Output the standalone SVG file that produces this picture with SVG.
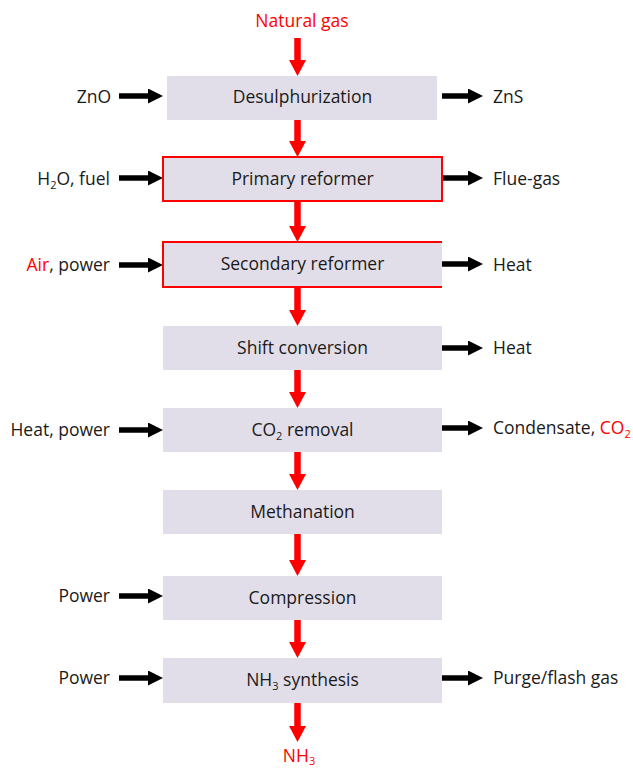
<svg xmlns="http://www.w3.org/2000/svg" width="633" height="770" viewBox="0 0 633 770">
<defs>
<style>
text{font-family:"Open Sans","Noto Sans","Liberation Sans",sans-serif;font-size:17.5px;fill:#1a1a1a}
.c{text-anchor:middle}
.e{text-anchor:end}
.red{fill:#ff0000}
.box{fill:#e2dee9}
.rb{fill:none;stroke:#ff0000;stroke-width:2}
.ra{stroke:#ff0000;stroke-width:6.5;fill:none}
.ba{stroke:#000;stroke-width:5.5;fill:none}
</style>
<marker id="rh" markerUnits="userSpaceOnUse" markerWidth="16" markerHeight="17" viewBox="0 0 16 17" refX="1" refY="8.5" orient="auto">
<path d="M0,0 L16,8.5 L0,17 z" fill="#ff0000"/>
</marker>
<marker id="bh" markerUnits="userSpaceOnUse" markerWidth="15" markerHeight="15" viewBox="0 0 15 15" refX="1" refY="7.5" orient="auto">
<path d="M0,0 L15,7.5 L0,15 z" fill="#000"/>
</marker>
</defs>
<rect width="633" height="770" fill="#fff"/>

<g id="connectors">
<line class="ra" x1="297.5" y1="38" x2="297.5" y2="61" marker-end="url(#rh)"/>
<line class="ra" x1="297.5" y1="120" x2="297.5" y2="142" marker-end="url(#rh)"/>
<line class="ra" x1="297.5" y1="201" x2="297.5" y2="227" marker-end="url(#rh)"/>
<line class="ra" x1="297.5" y1="287" x2="297.5" y2="311" marker-end="url(#rh)"/>
<line class="ra" x1="297.5" y1="370" x2="297.5" y2="393" marker-end="url(#rh)"/>
<line class="ra" x1="297.5" y1="452" x2="297.5" y2="475" marker-end="url(#rh)"/>
<line class="ra" x1="297.5" y1="534" x2="297.5" y2="561" marker-end="url(#rh)"/>
<line class="ra" x1="297.5" y1="620" x2="297.5" y2="643" marker-end="url(#rh)"/>
<line class="ra" x1="297.5" y1="703" x2="297.5" y2="727" marker-end="url(#rh)"/>

<line class="ba" x1="119" y1="96" x2="149" y2="96" marker-end="url(#bh)"/>
<line class="ba" x1="119" y1="178" x2="149" y2="178" marker-end="url(#bh)"/>
<line class="ba" x1="119" y1="265" x2="149" y2="265" marker-end="url(#bh)"/>
<line class="ba" x1="119" y1="430" x2="149" y2="430" marker-end="url(#bh)"/>
<line class="ba" x1="119" y1="596" x2="149" y2="596" marker-end="url(#bh)"/>
<line class="ba" x1="119" y1="678" x2="149" y2="678" marker-end="url(#bh)"/>

<line class="ba" x1="442" y1="96" x2="469" y2="96" marker-end="url(#bh)"/>
<line class="ba" x1="442" y1="178" x2="469" y2="178" marker-end="url(#bh)"/>
<line class="ba" x1="442" y1="264" x2="469" y2="264" marker-end="url(#bh)"/>
<line class="ba" x1="442" y1="348" x2="469" y2="348" marker-end="url(#bh)"/>
<line class="ba" x1="442" y1="428" x2="469" y2="428" marker-end="url(#bh)"/>
<line class="ba" x1="442" y1="678" x2="469" y2="678" marker-end="url(#bh)"/>
</g>

<g id="natural-gas"><text class="c red" x="302" y="27">Natural gas</text></g>

<g id="desulphurization">
<rect class="box" x="167" y="76" width="270" height="44"/>
<text class="c" x="302.5" y="103">Desulphurization</text>
</g>
<g id="primary-reformer">
<rect class="box" x="163" y="157" width="279" height="44"/>
<rect class="rb" x="163" y="157" width="279" height="44"/>
<text class="c" x="302.5" y="184.5">Primary reformer</text>
</g>
<g id="secondary-reformer">
<rect class="box" x="163" y="242" width="279" height="45"/>
<path class="rb" d="M442,242 H163 V287 H442"/>
<text class="c" x="302.5" y="270">Secondary reformer</text>
</g>
<g id="shift-conversion">
<rect class="box" x="163" y="326" width="279" height="44"/>
<text class="c" x="302.5" y="353.5">Shift conversion</text>
</g>
<g id="co2-removal">
<rect class="box" x="163" y="408" width="279" height="44"/>
<text class="c" x="302.5" y="435.5">CO<tspan font-size="11" dy="4">2</tspan><tspan dy="-4"> removal</tspan></text>
</g>
<g id="methanation">
<rect class="box" x="163" y="490" width="279" height="44"/>
<text class="c" x="302.5" y="517.5">Methanation</text>
</g>
<g id="compression">
<rect class="box" x="163" y="576" width="279" height="44"/>
<text class="c" x="302.5" y="603.5">Compression</text>
</g>
<g id="nh3-synthesis">
<rect class="box" x="163" y="658" width="279" height="45"/>
<text class="c" x="302.5" y="686">NH<tspan font-size="11" dy="4">3</tspan><tspan dy="-4"> synthesis</tspan></text>
</g>
<g id="nh3-product"><text class="c red" x="299" y="762">NH<tspan font-size="11" dy="3">3</tspan></text></g>

<g id="inputs">
<text class="e" x="111" y="102.5">ZnO</text>
<text class="e" x="110" y="184.5">H<tspan font-size="11" dy="4">2</tspan><tspan dy="-4">O, fuel</tspan></text>
<text class="e" x="110" y="271"><tspan class="red">Air</tspan>, power</text>
<text class="e" x="110" y="436">Heat, power</text>
<text class="e" x="110" y="602">Power</text>
<text class="e" x="110" y="684">Power</text>
</g>
<g id="outputs">
<text x="493" y="102.5">ZnS</text>
<text x="493" y="184.5">Flue-gas</text>
<text x="493" y="270.5">Heat</text>
<text x="493" y="354">Heat</text>
<text x="493" y="434">Condensate, <tspan class="red">CO</tspan><tspan class="red" font-size="11" dy="4">2</tspan></text>
<text x="493" y="684">Purge/flash gas</text>
</g>
</svg>
